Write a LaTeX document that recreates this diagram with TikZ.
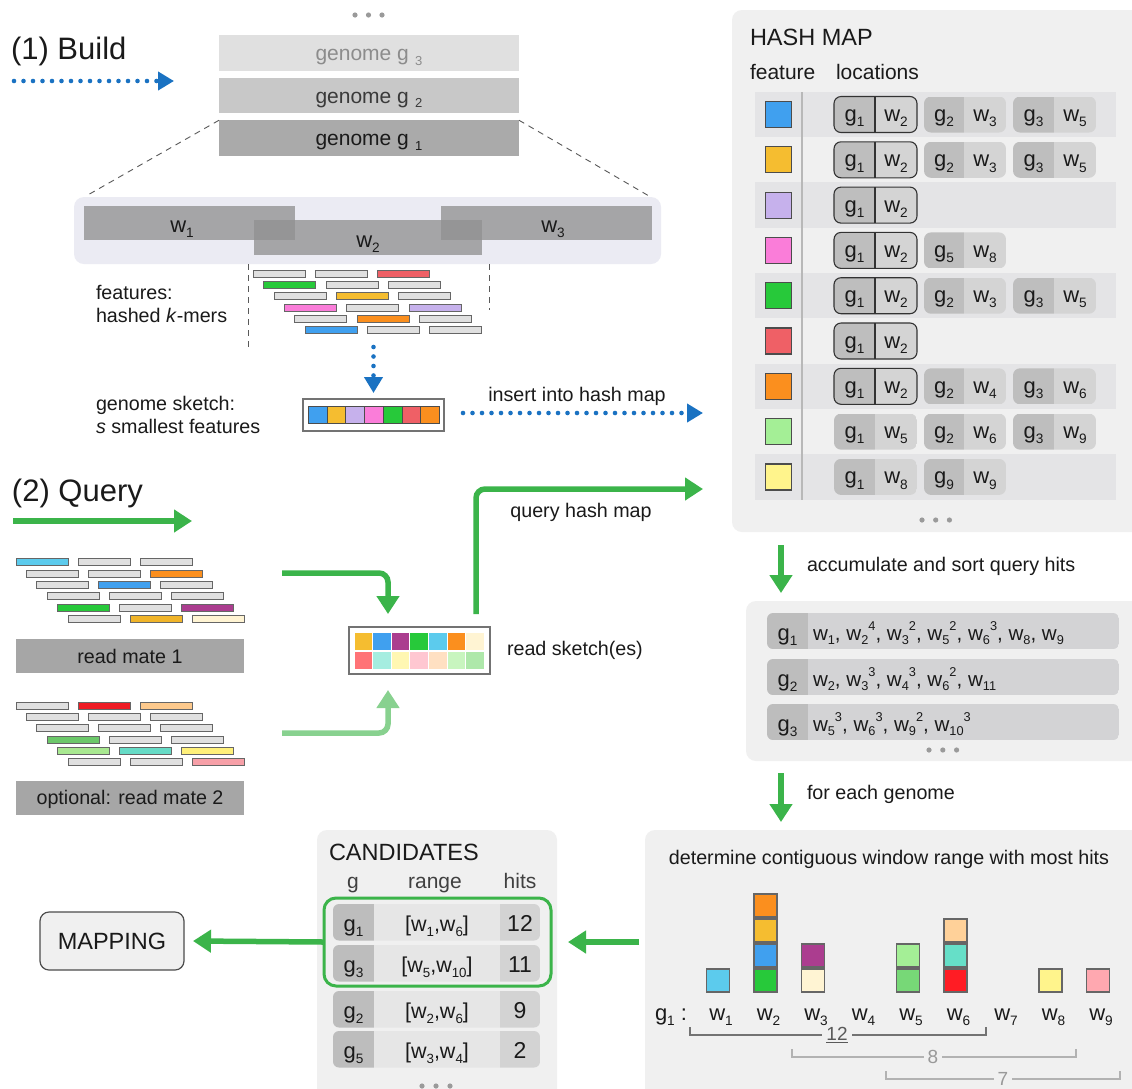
\documentclass[tikz,border=0pt]{standalone}
\usepackage{fontspec}
\setmainfont{Liberation Sans}
\usetikzlibrary{arrows.meta,calc}

% palette
\definecolor{txt}{HTML}{1A1A1A}
\definecolor{panelbg}{HTML}{F0F0F0}
\definecolor{stripe}{HTML}{E4E4E6}
\definecolor{winbg}{HTML}{EBEBF3}
\definecolor{winbar}{HTML}{919191}
\definecolor{gen3}{HTML}{E0E0E0}
\definecolor{gen3t}{HTML}{8C8C8C}
\definecolor{gen2}{HTML}{C8C8C8}
\definecolor{gen2t}{HTML}{3A3A3A}
\definecolor{gen1}{HTML}{AAAAAA}
\definecolor{rmgray}{HTML}{A6A6A6}
\definecolor{kg}{HTML}{E0E0E0}
\definecolor{pillg}{HTML}{BEBEBE}
\definecolor{pillw}{HTML}{D4D4D4}
\definecolor{hitg}{HTML}{BDBDBD}
\definecolor{hitw}{HTML}{D3D3D5}
\definecolor{candmid}{HTML}{E6E6E6}
\definecolor{candhit}{HTML}{D3D3D3}
\definecolor{dotc}{HTML}{9A9A9A}
\definecolor{arrG}{HTML}{3BB44A}
\definecolor{arrLG}{HTML}{88D18F}
\definecolor{arrB}{HTML}{1A72C2}
% feature colours
\definecolor{cBlue}{HTML}{40A0EF}
\definecolor{cYel}{HTML}{F5BD30}
\definecolor{cLav}{HTML}{C6B1EC}
\definecolor{cPink}{HTML}{FA7DD9}
\definecolor{cGreen}{HTML}{27C93A}
\definecolor{cRed}{HTML}{EF6066}
\definecolor{cOrange}{HTML}{FB8F1E}
\definecolor{cLtGreen}{HTML}{A4EF96}
\definecolor{cLtYellow}{HTML}{FFF48C}
\definecolor{cSky}{HTML}{5CCBED}
\definecolor{cPurple}{HTML}{AB3D8F}
\definecolor{cCream}{HTML}{FFF4D3}
\definecolor{cBrRed}{HTML}{FF1C24}
\definecolor{cTeal}{HTML}{66DFC8}
\definecolor{cPeach}{HTML}{FFD199}
\definecolor{cMidG}{HTML}{77D877}
\definecolor{cPinkB}{HTML}{FFA8B0}
\definecolor{cRed2}{HTML}{EE1C24}
\definecolor{cPeach2}{HTML}{FDC98C}
\definecolor{cMidG2}{HTML}{6CC86A}
\definecolor{cLtG2}{HTML}{A8E890}
\definecolor{cTeal2}{HTML}{66DBC6}
\definecolor{cYel2}{HTML}{FFF07A}
\definecolor{cPink2}{HTML}{F7A0A8}
\definecolor{cYelO}{HTML}{F0B429}
\definecolor{pSalmon}{HTML}{FF7377}
\definecolor{pTeal}{HTML}{A5EDE0}
\definecolor{pYel}{HTML}{FFF7B2}
\definecolor{pPink}{HTML}{FFC7D1}
\definecolor{pPeach}{HTML}{FFE0C2}
\definecolor{pGreen}{HTML}{C8F5BF}
\definecolor{pGreen2}{HTML}{AEE8AA}

% lowered / raised indices in text
\makeatletter
\newcommand{\lowidx}[1]{\raisebox{-0.45ex}{\fontsize{\fpeval{0.62*\f@size}}{1}\selectfont #1}}
\newcommand{\highidx}[1]{\raisebox{0.85ex}{\fontsize{\fpeval{0.62*\f@size}}{1}\selectfont #1}}
\makeatother

\tikzset{
  every node/.style={inner sep=0pt, outer sep=0pt, text=txt},
  lbl/.style={font=\fontsize{19.7}{23}\selectfont, text height=14.2pt, text depth=0pt},
  hdr/.style={font=\fontsize{21}{24}\selectfont, text height=15pt, text depth=0pt},
  head/.style={font=\fontsize{23.5}{27}\selectfont, text height=16.9pt, text depth=0pt},
  big/.style={font=\fontsize{31}{36}\selectfont, text height=22.3pt, text depth=0pt},
  ptxt/.style={font=\fontsize{22}{26}\selectfont, text height=14pt, text depth=0pt},
  gtxt/.style={font=\fontsize{22}{26}\selectfont, text height=18pt, text depth=0pt},
  htxt/.style={font=\fontsize{20.6}{24}\selectfont, text height=18pt, text depth=0pt},
  rtxt/.style={font=\fontsize{21.5}{24}\selectfont, text height=18pt, text depth=0pt},
  ntxt/.style={font=\fontsize{23}{26}\selectfont, text height=18pt, text depth=0pt},
  gbar/.style={font=\fontsize{21}{24}\selectfont, text height=15pt, text depth=0pt, minimum width=300pt, minimum height=35.5pt},
  panel/.style={fill=panelbg, rounded corners=10pt},
  wbar/.style={fill=winbar, fill opacity=0.77},
  zoomline/.style={draw=black!65, line width=0.9pt, dash pattern=on 6pt off 5pt},
  kmer/.style={draw=black!60, line width=0.9pt},
  fsq/.style={draw=black!70, line width=1pt},
  skbox/.style={draw=black!55, line width=1.3pt, fill=white},
  rmbox/.style={lbl, fill=rmgray},
  pillline/.style={draw=black!80, line width=1.1pt},
  garrow/.style={draw=arrG, line width=5.5pt, rounded corners=9pt, -{Triangle[length=18pt,width=22pt]}},
  barrow/.style={draw=arrB, line width=4.6pt, line cap=round, dash pattern=on 0pt off 9.5pt, -{Triangle[length=16pt,width=18pt]}},
  brk/.style={line width=1.2pt},
  brl/.style={font=\fontsize{19}{22}\selectfont, text height=13.7pt, text depth=0pt, fill=panelbg, inner xsep=4pt},
}

% a genome/window location pill: left, divider, right, row centre, g index, w index, name
\newcommand{\pill}[7]{%
  \begin{scope}
    \clip[rounded corners=7pt] (#1,#4-18) rectangle (#3,#4+18);
    \fill[pillg] (#1,#4-18) rectangle (#2,#4+18);
    \fill[pillw] (#2,#4-18) rectangle (#3,#4+18);
  \end{scope}
  \node[ptxt] (#7g) at ({(#1+#2)/2},#4) {g\lowidx{#5}};
  \node[ptxt] (#7w) at ({(#2+#3)/2},#4) {w\lowidx{#6}};
}
\newcommand{\hlpill}[7]{%
  \pill{#1}{#2}{#3}{#4}{#5}{#6}{#7}
  \draw[pillline, rounded corners=7pt] (#1,#4-18) rectangle (#3,#4+18);
  \draw[pillline] (#2,#4-18) -- (#2,#4+18);
}
% accumulated hits of one genome: top, g index, window list, name
\newcommand{\hitrow}[4]{%
  \begin{scope}
    \clip[rounded corners=6pt] (767,#1) rectangle (1119,#1+36);
    \fill[hitg] (767,#1) rectangle (808,#1+36);
    \fill[hitw] (808,#1) rectangle (1119,#1+36);
  \end{scope}
  \node[gtxt] (#4g) at (787.5,#1+18) {g\lowidx{#2}};
  \node[htxt, anchor=west] (#4w) at (813,#1+18) {#3};
}
% candidate row: top, g index, range, hits, name
\newcommand{\candrow}[5]{%
  \begin{scope}
    \clip[rounded corners=6pt] (333,#1) rectangle (540,#1+36.5);
    \fill[hitg] (333,#1) rectangle (374,#1+36.5);
    \fill[candmid] (374,#1) rectangle (500,#1+36.5);
    \fill[candhit] (500,#1) rectangle (540,#1+36.5);
  \end{scope}
  \node[gtxt] (#5g) at (353.5,#1+18.25) {g\lowidx{#2}};
  \node[rtxt] (#5r) at (437,#1+18.25) {#3};
  \node[ntxt] (#5h) at (520,#1+18.25) {#4};
}

\begin{document}
\begin{tikzpicture}[x=1pt,y=-1pt]
\useasboundingbox (0,0) rectangle (1132,1088);
\fill[white] (0,0) rectangle (1132,1088);

%================ (1) BUILD ================
\node[big, anchor=west] (build) at (11,48) {(1) Build};
\coordinate (b0) at (14,81);
\coordinate (b1) at (174,81);
\draw[barrow] (b0) -- (b1);

\foreach \i in {0,1,2} \fill[dotc] (355+13.5*\i,15) circle (2.6);
\node[gbar, fill=gen3, text=gen3t] (g3) at (369,53)  {genome g\hspace{0.3em}\lowidx{3}};
\node[gbar, fill=gen2, text=gen2t] (g2) at (369,95.5) {genome g\hspace{0.3em}\lowidx{2}};
\node[gbar, fill=gen1, text=txt]   (g1) at (369,138) {genome g\hspace{0.3em}\lowidx{1}};

% windows of genome g1
\node[fill=winbg, rounded corners=10pt, minimum width=587pt, minimum height=67pt] (wp) at (367.5,230.5) {};
\draw[zoomline] (g1.north west) -- ($(wp.north west)+(12,-1)$);
\draw[zoomline] (g1.north east) -- ($(wp.north east)+(-12,-1)$);
\node[wbar, minimum width=211pt, minimum height=34pt] (wb1) at (189.5,223) {};
\node[wbar, minimum width=211pt, minimum height=34pt] (wb3) at (546.5,223) {};
\node[wbar, minimum width=228pt, minimum height=35pt] (wb2) at (368,237.5) {};
\node[ptxt] (wl1) at (182,225) {w\lowidx{1}};
\node[ptxt] (wl2) at (368,240) {w\lowidx{2}};
\node[ptxt] (wl3) at (553,225) {w\lowidx{3}};
\draw[zoomline] (248,264) -- (248,350);
\draw[zoomline] (489,264) -- (489,310);

% hashed k-mers of window w2
\foreach \r/\ca/\cb/\cc in {0/kg/kg/cRed,1/cGreen/kg/kg,2/kg/cYel/kg,3/cPink/kg/cLav,4/kg/cOrange/kg,5/cBlue/kg/kg}{
  \foreach \c/\col in {0/\ca,1/\cb,2/\cc}{
    \filldraw[kmer, fill=\col] ({253.3+10.4*\r+62.3*\c},{270.2+11.3*\r}) rectangle ++(52,7);
  }
}
\node[lbl, anchor=west] (feat1) at (96,292) {features:};
\node[lbl, anchor=west] (feat2) at (96,315) {hashed \textit{k}-mers};

% genome sketch
\node[skbox, minimum width=141pt, minimum height=32pt] (gsk) at (373.5,415) {};
\foreach \col [count=\i from 0] in {cBlue,cYel,cLav,cPink,cGreen,cRed,cOrange}
  \filldraw[fsq, fill=\col] ({308.5+18.7*\i},406.5) rectangle ++(18.7,17);
\coordinate (k0) at (373.5,347);
\draw[barrow] (k0) -- ($(gsk.north)+(0,-6)$);
\node[lbl, anchor=west] (sk1) at (96,403) {genome sketch:};
\node[lbl, anchor=west] (sk2) at (96,426) {\textit{s} smallest features};

\coordinate (hmi) at (703,413);
\draw[barrow] ($(gsk.east)+(19,-2)$) -- (hmi);
\node[lbl] (inslab) at (577,394) {insert into hash map};

%================ HASH MAP ================
\node[panel, minimum width=413pt, minimum height=522pt] (hm) at (938.5,271) {};
\node[head, anchor=west] (hmtitle) at (750,37) {HASH MAP};
\node[hdr, anchor=west] (hmfeat) at (750,72) {feature};
\node[hdr, anchor=west] (hmloc) at (836,72) {locations};
\foreach \i in {1,3,5,7,9}
  \fill[stripe] (755,{114.5+45.3*(\i-1)-22.65}) rectangle (1116,{114.5+45.3*(\i-1)+22.65});
\draw[draw=black!28, line width=2pt] (802,92) -- (802,499.5);
\foreach \col [count=\i] in {cBlue,cYel,cLav,cPink,cGreen,cRed,cOrange,cLtGreen,cLtYellow}
  \filldraw[fsq, line width=1.2pt, fill=\col] (765.5,{114.5+45.3*(\i-1)-13}) rectangle ++(26,26);

\hlpill{834}{875}{917}{114.5}{1}{2}{p1a} \pill{924}{964}{1006}{114.5}{2}{3}{p1b} \pill{1013}{1054}{1096}{114.5}{3}{5}{p1c}
\hlpill{834}{875}{917}{159.8}{1}{2}{p2a} \pill{924}{964}{1006}{159.8}{2}{3}{p2b} \pill{1013}{1054}{1096}{159.8}{3}{5}{p2c}
\hlpill{834}{875}{917}{205.1}{1}{2}{p3a}
\hlpill{834}{875}{917}{250.4}{1}{2}{p4a} \pill{924}{964}{1006}{250.4}{5}{8}{p4b}
\hlpill{834}{875}{917}{295.7}{1}{2}{p5a} \pill{924}{964}{1006}{295.7}{2}{3}{p5b} \pill{1013}{1054}{1096}{295.7}{3}{5}{p5c}
\hlpill{834}{875}{917}{341.0}{1}{2}{p6a}
\hlpill{834}{875}{917}{386.3}{1}{2}{p7a} \pill{924}{964}{1006}{386.3}{2}{4}{p7b} \pill{1013}{1054}{1096}{386.3}{3}{6}{p7c}
\pill{834}{875}{917}{431.6}{1}{5}{p8a} \pill{924}{964}{1006}{431.6}{2}{6}{p8b} \pill{1013}{1054}{1096}{431.6}{3}{9}{p8c}
\pill{834}{875}{917}{476.9}{1}{8}{p9a} \pill{924}{964}{1006}{476.9}{9}{9}{p9b}
\foreach \i in {0,1,2} \fill[dotc] (922+13.7*\i,520) circle (2.6);

%================ (2) QUERY ================
\node[big, anchor=west] (query) at (12,490) {(2) Query};
\coordinate (q0) at (13,521);
\coordinate (q1) at (192,521);
\draw[garrow] (q0) -- (q1);

% reads of mate 1 and mate 2
\foreach \r/\ca/\cb/\cc in {0/cSky/kg/kg,1/kg/kg/cOrange,2/kg/cBlue/kg,3/kg/kg/kg,4/cGreen/kg/cPurple,5/kg/cYelO/cCream}{
  \foreach \c/\col in {0/\ca,1/\cb,2/\cc}{
    \filldraw[kmer, fill=\col] ({16+10.4*\r+62*\c},{558.8+11.3*\r}) rectangle ++(52,7);
  }
}
\foreach \r/\ca/\cb/\cc in {0/kg/cRed2/cPeach2,1/kg/kg/kg,2/kg/kg/kg,3/cMidG2/kg/kg,4/cLtG2/cTeal2/cYel2,5/kg/kg/cPink2}{
  \foreach \c/\col in {0/\ca,1/\cb,2/\cc}{
    \filldraw[kmer, fill=\col] ({16+10.4*\r+62*\c},{702.2+11.3*\r}) rectangle ++(52,7);
  }
}
\node[rmbox, minimum width=228pt, minimum height=34pt] (rm1) at (130,656) {read mate 1};
\node[rmbox, minimum width=228pt, minimum height=34pt] (rm2) at (130,797.5) {optional: read mate 2};

% read sketch(es)
\node[skbox, minimum width=141pt, minimum height=47pt] (rs) at (419.5,650.5) {};
\foreach \col [count=\i from 0] in {cYel,cBlue,cPurple,cGreen,cSky,cOrange,cCream}
  \fill[\col] ({354.5+18.65*\i},633) rectangle ++(17.6,16.5);
\foreach \col [count=\i from 0] in {pSalmon,pTeal,pYel,pPink,pPeach,pGreen,pGreen2}
  \fill[\col] ({354.5+18.65*\i},652) rectangle ++(17.6,16.5);
\node[lbl, anchor=west] (rslab) at (507,648) {read sketch(es)};

\coordinate (m1o) at (282,573);
\draw[garrow] (m1o) -| ($(rs.north west)+(39,-13)$);
\coordinate (m2o) at (282,733);
\draw[garrow, draw=arrLG] (m2o) -| ($(rs.south west)+(39,16)$);
\coordinate (hmq) at (703,489);
\draw[garrow] ($(rs.north east)+(-14,-13)$) |- (hmq);
\node[lbl] (qlab) at (581,510) {query hash map};

%================ ACCUMULATED HITS ================
\node[panel, minimum width=399pt, minimum height=160pt] (hits) at (945.5,681) {};
\coordinate (acc0) at (781,545);
\draw[garrow] (acc0) -- ($(hits.north west)+(35,-8)$);
\node[lbl, anchor=west] (acclab) at (807,564) {accumulate and sort query hits};
\hitrow{613}{1}{w\lowidx{1}, w\lowidx{2}\highidx{4}, w\lowidx{3}\highidx{2}, w\lowidx{5}\highidx{2}, w\lowidx{6}\highidx{3}, w\lowidx{8}, w\lowidx{9}}{h1}
\hitrow{659}{2}{w\lowidx{2}, w\lowidx{3}\highidx{3}, w\lowidx{4}\highidx{3}, w\lowidx{6}\highidx{2}, w\lowidx{11}}{h2}
\hitrow{704}{3}{w\lowidx{5}\highidx{3}, w\lowidx{6}\highidx{3}, w\lowidx{9}\highidx{2}, w\lowidx{10}\highidx{3}}{h3}
\foreach \i in {0,1,2} \fill[dotc] (929+13.8*\i,750) circle (2.6);

%================ WINDOW RANGE ================
\node[panel, minimum width=500pt, minimum height=270pt] (wpn) at (895,965) {};
\draw[garrow] ($(hits.south west)+(35,12)$) -- ($(wpn.north west)+(136,-8)$);
\node[lbl, anchor=west] (fe) at (807,792) {for each genome};
\node[lbl] (wtitle) at (889,857) {determine contiguous window range with most hits};
\foreach \k/\cols in {1/{cSky},2/{cGreen,cBlue,cYel,cOrange},3/{cCream,cPurple},5/{cMidG,cLtGreen},6/{cBrRed,cTeal,cPeach},8/{cLtYellow},9/{cPinkB}}{
  \foreach \col [count=\j from 0] in \cols {
    \filldraw[fsq, line width=1.2pt, draw=black!60, fill=\col] ({718+47.5*(\k-1)-11.5},{969-25*\j}) rectangle ++(23,23);
  }
}
\node[ptxt, anchor=west] (g1lab) at (655,1013) {g\lowidx{1} :};
\foreach \k in {1,...,9}
  \node[ptxt] (wl\k) at ({718+47.5*(\k-1)+3},1013) {w\lowidx{\k}};
\draw[brk, draw=black!55] (690,1027) -- (690,1035) -- (986,1035) -- (986,1027);
\node[brl, text=black!65] (r12) at (837,1034) {\underline{12}};
\draw[brk, draw=black!30] (792,1049) -- (792,1057) -- (1076,1057) -- (1076,1049);
\node[brl, text=black!40] (r8) at (933,1057) {8};
\draw[brk, draw=black!30] (886,1071) -- (886,1079) -- (1120,1079) -- (1120,1071);
\node[brl, text=black!40] (r7) at (1003,1078.5) {7};

%================ CANDIDATES ================
\node[panel, minimum width=240pt, minimum height=270pt] (cand) at (437,965) {};
\node[head, anchor=west] (candt) at (329,852) {CANDIDATES};
\node[hdr, text=black!75] (ch1) at (353,881) {g};
\node[hdr, text=black!75] (ch2) at (435,881) {range};
\node[hdr, text=black!75] (ch3) at (520,881) {hits};
\candrow{904}{1}{[w\lowidx{1},w\lowidx{6}]}{12}{c1}
\candrow{945}{3}{[w\lowidx{5},w\lowidx{10}]}{11}{c2}
\candrow{991}{2}{[w\lowidx{2},w\lowidx{6}]}{9}{c3}
\candrow{1031}{5}{[w\lowidx{3},w\lowidx{4}]}{2}{c4}
\node[draw=arrG, line width=3pt, rounded corners=12pt, minimum width=227pt, minimum height=88pt] (hl) at (437.5,942) {};
\foreach \i in {0,1,2} \fill[dotc] (422+14*\i,1086) circle (2.6);
\draw[garrow] ($(wpn.west |- hl.east)+(-6,0)$) -- ($(hl.east)+(17,0)$);

\node[head, draw=black!70, line width=1.2pt, fill=panelbg, rounded corners=9pt, minimum width=144pt, minimum height=58pt] (map) at (112,941) {MAPPING};
\draw[garrow] (hl.west) -- ($(map.east)+(9,0)$);
\end{tikzpicture}
\end{document}
